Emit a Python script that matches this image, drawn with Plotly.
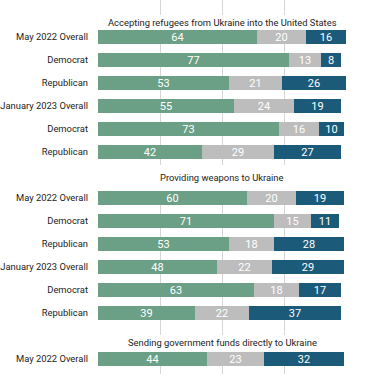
import plotly.graph_objects as go

# ---- data ----
section_titles = [
    "Accepting refugees from Ukraine into the United States",
    "Providing weapons to Ukraine",
    "Sending government funds directly to Ukraine",
]
row_labels = [
    ["May 2022 Overall", "Democrat", "Republican", "January 2023 Overall", "Democrat", "Republican"],
    ["May 2022 Overall", "Democrat", "Republican", "January 2023 Overall", "Democrat", "Republican"],
    ["May 2022 Overall"],
]
support = [[64, 77, 53, 55, 73, 42], [60, 71, 53, 48, 63, 39], [44]]
neutral = [[20, 13, 21, 24, 16, 29], [20, 15, 18, 22, 18, 22], [23]]
oppose = [[16, 8, 26, 19, 10, 27], [19, 11, 28, 29, 17, 37], [32]]

# ---- layout helpers ----
section_start = [0, 7, 14]          # row slot of first bar in each section
title_pos = [-0.652, 6.087, 13.30]  # slot position of section titles
band_top = [-0.957, 5.565, 12.957]  # white gap behind titles
BAR_W = 0.64

ys, labels, s_vals, n_vals, o_vals = [], [], [], [], []
for k in range(len(section_titles)):
    for i, lab in enumerate(row_labels[k]):
        ys.append(section_start[k] + i)
        labels.append(lab)
        s_vals.append(support[k][i])
        n_vals.append(neutral[k][i])
        o_vals.append(oppose[k][i])

colors = ["#6b9f86", "#bdbdbd", "#1c5a7a"]
fig = go.Figure()
for vals, col in zip([s_vals, n_vals, o_vals], colors):
    fig.add_trace(go.Bar(
        x=vals, y=ys, orientation="h", width=BAR_W,
        marker=dict(color=col, line=dict(width=0)),
        text=[str(v) for v in vals], textposition="inside",
        insidetextanchor="middle", textangle=0, constraintext="none",
        textfont=dict(color="white", size=11, family="Roboto"),
        hoverinfo="skip", showlegend=False,
    ))

shapes = []
annotations = []
for k, t in enumerate(section_titles):
    shapes.append(dict(type="rect", xref="paper", x0=-0.01, x1=1.01, yref="y",
                       y0=band_top[k], y1=section_start[k] - BAR_W / 2,
                       fillcolor="white", line=dict(width=0), layer="above"))
    annotations.append(dict(text=t, x=50, y=title_pos[k], xref="x", yref="y",
                            showarrow=False, xanchor="center", yanchor="middle",
                            font=dict(size=9.4, color="#222222", family="Roboto")))

fig.update_layout(
    width=365, height=374,
    margin=dict(l=98, r=19, t=0, b=0),
    barmode="stack", bargap=0,
    plot_bgcolor="white", paper_bgcolor="white",
    shapes=shapes, annotations=annotations,
    xaxis=dict(range=[0, 100], tickvals=[0, 25, 50, 75, 100], showticklabels=False,
               showgrid=True, gridcolor="#d6d6d6", gridwidth=1, zeroline=False,
               showline=False, fixedrange=True, automargin=False),
    yaxis=dict(range=[14.652, -1.609], tickvals=ys, ticktext=labels,
               tickfont=dict(size=9.4, color="#222222", family="Roboto"),
               showgrid=False, zeroline=False, showline=False, ticks="",
               ticklabelstandoff=9, automargin=False, fixedrange=True),
)

fig.write_html("out.html", config={"displayModeBar": False},
               post_script="document.body.style.margin='0';document.body.style.overflow='hidden';")
